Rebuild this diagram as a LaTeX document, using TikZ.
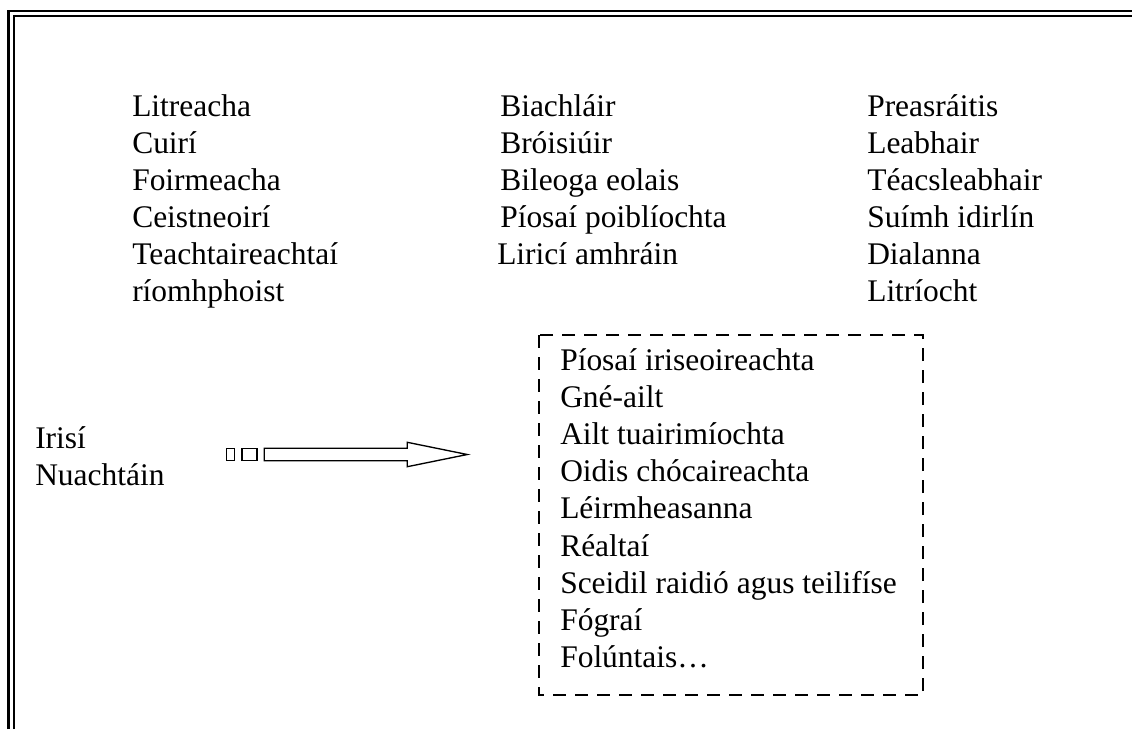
\documentclass[tikz,border=0pt]{standalone}
\usepackage{fontspec}
\setmainfont{Liberation Serif}
\usepackage{tikz}

\begin{document}
\begin{tikzpicture}[x=0.75pt,y=-0.75pt,
        item/.style={anchor=base west,inner sep=0pt,font=\fontsize{23.6pt}{27.75pt}\selectfont},
        frameline/.style={line width=1.9pt},
        dashbox/.style={draw,line width=1.5pt,dash pattern=on 9.75pt off 6.75pt},
        blockarrow/.style={draw,line width=1pt,line join=miter}]
    \useasboundingbox (0,0) rectangle (1132,729);

    % Double frame (top and left)
    \draw[frameline] (8.5,729) -- (8.5,10.8) -- (1132,10.8);
    \draw[frameline] (13.8,729) -- (13.8,15.8) -- (1132,15.8);

    % Left column
    \foreach \t [count=\i] in {Litreacha,Cuirí,Foirmeacha,Ceistneoirí,Teachtaireachtaí,ríomhphoist}
        \node[item] (left\i) at (132,{116+37*(\i-1)}) {\t};

    % Middle column
    \foreach \t [count=\i] in {Biachláir,Bróisiúir,Bileoga eolais,Píosaí poiblíochta}
        \node[item] (mid\i) at (500,{116+37*(\i-1)}) {\t};
    \node[item] (mid5) at (497,264) {Liricí amhráin};

    % Right column
    \foreach \t [count=\i] in {Preasráitis,Leabhair,Téacsleabhair,Suímh idirlín,Dialanna,Litríocht}
        \node[item] (right\i) at (867,{116+37*(\i-1)}) {\t};

    % Source
    \node[item] (irisi) at (35,448) {Irisí};
    \node[item] (nuacht) at (35,485) {Nuachtáin};

    % Block arrow
    \coordinate (tail) at (226.7,454.5);
    \coordinate (tip) at (467.3,454.5);
    \draw[blockarrow] (tail) ++(0,-6.2) rectangle ++(7.6,12.4);
    \draw[blockarrow] (tail) ++(15.3,-6.2) rectangle ++(15,12.4);
    \draw[blockarrow] (tail) ++(37.6,-6.2) -- (407.3,448.3) -- (407.3,442.3)
        -- (tip) -- (407.3,466.7) -- (407.3,460.7) -- ++(-143,0) -- cycle;

    % Newspaper box
    \draw[dashbox] (539,335) rectangle (923,695);
    \foreach \t [count=\i] in {Píosaí iriseoireachta,Gné-ailt,Ailt tuairimíochta,Oidis chócaireachta,Léirmheasanna,Réaltaí,Sceidil raidió agus teilifíse,Fógraí,Folúntais…}
        \node[item] (box\i) at (560,{370+37.2*(\i-1)}) {\t};
\end{tikzpicture}
\end{document}
